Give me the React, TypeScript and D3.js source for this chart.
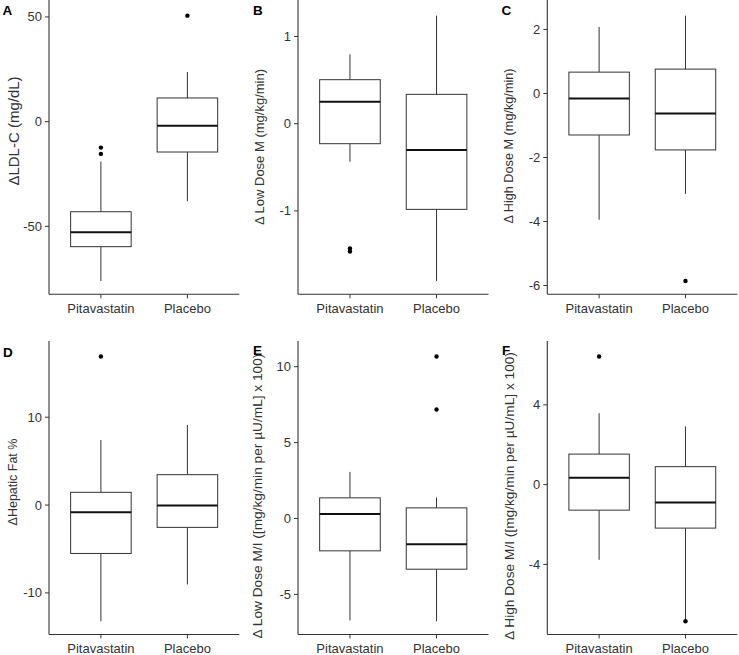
import * as d3 from "d3";

const groups = ["Pitavastatin", "Placebo"];

const letters = ["A", "B", "C", "D", "E", "F"];

const yTitles = [
  "ΔLDL-C (mg/dL)",
  "Δ Low Dose M (mg/kg/min)",
  "Δ High Dose M (mg/kg/min)",
  "ΔHepatic Fat %",
  "Δ Low Dose M/I ([mg/kg/min per µU/mL] x 100)",
  "Δ High Dose M/I ([mg/kg/min per µU/mL] x 100)",
];

const yTicks = [
  [-50, 0, 50],
  [-1, 0, 1],
  [-6, -4, -2, 0, 2],
  [-10, 0, 10],
  [-5, 0, 5, 10],
  [-4, 0, 4],
];

// [lower whisker, q1, median, q3, upper whisker] for Pitavastatin, Placebo
const ldlStats = [[-76.1, -59.7, -52.8, -43.0, -19.1], [-38.0, -14.5, -1.9, 11.3, 23.7]];
const ldlOutliers = [[-12.4, -15.4], [50.6]];

const lowMStats = [[-0.436, -0.229, 0.252, 0.505, 0.796], [-1.804, -0.982, -0.302, 0.337, 1.239]];
const lowMOutliers = [[-1.431, -1.466], []];

const highMStats = [[-3.947, -1.297, -0.156, 0.667, 2.079], [-3.136, -1.764, -0.623, 0.761, 2.431]];
const highMOutliers = [[], [-5.86]];

const fatStats = [[-13.23, -5.51, -0.83, 1.45, 7.41], [-9.04, -2.54, -0.04, 3.46, 9.12]];
const fatOutliers = [[16.91], []];

const lowMIStats = [[-6.72, -2.13, 0.3, 1.36, 3.07], [-6.77, -3.34, -1.69, 0.7, 1.38]];
const lowMIOutliers = [[], [10.67, 7.18]];

const highMIStats = [[-3.77, -1.28, 0.35, 1.53, 3.58], [-6.78, -2.18, -0.9, 0.9, 2.92]];
const highMIOutliers = [[6.42], [-6.85]];

const stats = [ldlStats, lowMStats, highMStats, fatStats, lowMIStats, highMIStats];
const outliers = [ldlOutliers, lowMOutliers, highMOutliers, fatOutliers, lowMIOutliers, highMIOutliers];

const W = 739;
const H = 655;
const colLeft = [49, 298, 547.3];
const colRight = [239.3, 488.5, 737.3];
const rowTop = [2.4, 343.3];
const rowBottom = [294.3, 634.5];
const titleX = [14, 259, 509, 13, 257, 509];
const titleY = [131, 147, 146, 482, 496, 496];
const titleSize = [15, 13, 12.7, 12.5, 13.7, 13.7];
const letterPos = [[2.5, 15], [253, 15], [501.5, 15], [3, 357], [253, 355], [502, 355]];
const font = "'Liberation Sans', Arial, sans-serif";
const ink = "#333333";

function Panel({ i }) {
  const col = i % 3;
  const row = Math.floor(i / 3);
  const left = colLeft[col];
  const right = colRight[col];
  const top = rowTop[row];
  const bottom = rowBottom[row];

  const all = stats[i].flat().concat(outliers[i].flat());
  const [lo, hi] = d3.extent(all);
  const pad = (hi - lo) * 0.05;
  const y = d3.scaleLinear().domain([lo - pad, hi + pad]).range([bottom, top]);
  const x = d3.scalePoint().domain(groups).range([left, right]).padding(0.6);
  const bw = x.step() * 0.7;

  return (
    <g>
      <text x={letterPos[i][0]} y={letterPos[i][1]} fontSize={13.5} fontWeight="bold" fill="#000">
        {letters[i]}
      </text>
      <text
        transform={`translate(${titleX[i]},${titleY[i]}) rotate(-90)`}
        dy="0.35em"
        textAnchor="middle"
        fontSize={titleSize[i]}
        fill={ink}
      >
        {yTitles[i]}
      </text>

      {/* y axis */}
      <line x1={left} x2={left} y1={top - 2.4} y2={bottom} stroke={ink} strokeWidth={1.1} />
      {yTicks[i].map((t) => (
        <g key={t}>
          <line x1={left - 4} x2={left} y1={y(t)} y2={y(t)} stroke={ink} strokeWidth={1} />
          <text x={left - 7} y={y(t)} dy="0.35em" textAnchor="end" fontSize={13} fill={ink}>
            {t < 0 ? "-" + Math.abs(t) : t}
          </text>
        </g>
      ))}

      {/* x axis */}
      <line x1={left} x2={right} y1={bottom} y2={bottom} stroke={ink} strokeWidth={1.1} />
      {groups.map((g) => (
        <g key={g}>
          <line x1={x(g)} x2={x(g)} y1={bottom} y2={bottom + 4} stroke={ink} strokeWidth={1} />
          <text x={x(g)} y={bottom + 18.5} textAnchor="middle" fontSize={13} fill={ink}>
            {g}
          </text>
        </g>
      ))}

      {/* boxes */}
      {groups.map((g, k) => {
        const [w0, q1, med, q3, w1] = stats[i][k];
        const cx = x(g);
        return (
          <g key={g}>
            <line x1={cx} x2={cx} y1={y(q3)} y2={y(w1)} stroke={ink} strokeWidth={1} />
            <line x1={cx} x2={cx} y1={y(q1)} y2={y(w0)} stroke={ink} strokeWidth={1} />
            <rect
              x={cx - bw / 2}
              y={y(q3)}
              width={bw}
              height={y(q1) - y(q3)}
              fill="white"
              stroke={ink}
              strokeWidth={1}
            />
            <line x1={cx - bw / 2} x2={cx + bw / 2} y1={y(med)} y2={y(med)} stroke="#111" strokeWidth={2} />
            {outliers[i][k].map((v, j) => (
              <circle key={j} cx={cx} cy={y(v)} r={2.2} fill="#000" />
            ))}
          </g>
        );
      })}
    </g>
  );
}

export default function App() {
  return (
    <svg
      width={W}
      height={H}
      style={{ position: "absolute", left: 0, top: 0, background: "white" }}
      fontFamily={font}
    >
      {letters.map((l, i) => (
        <Panel key={l} i={i} />
      ))}
    </svg>
  );
}
